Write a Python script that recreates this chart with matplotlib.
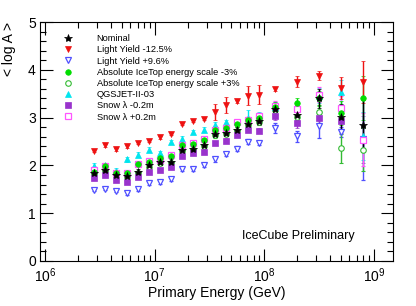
import numpy as np
import matplotlib
matplotlib.use("Agg")
import matplotlib.pyplot as plt
from matplotlib.lines import Line2D
from matplotlib.ticker import LogLocator, MultipleLocator, NullFormatter

plt.rcParams['font.family'] = ['Liberation Sans', 'DejaVu Sans']
plt.rcParams['mathtext.fontset'] = 'custom'
plt.rcParams['mathtext.rm'] = 'Liberation Sans'
plt.rcParams['mathtext.it'] = 'Liberation Sans:italic'

# ---- data ----
log_energy = [6.45, 6.55, 6.65, 6.75, 6.85, 6.95, 7.05, 7.15, 7.25, 7.35, 7.45,
              7.55, 7.65, 7.75, 7.85, 7.95, 8.1, 8.3, 8.5, 8.7, 8.9]

nominal = [1.84, 1.91, 1.80, 1.78, 1.87, 2.00, 2.08, 2.08, 2.33, 2.35, 2.43,
           2.66, 2.68, 2.75, 2.87, 2.92, 3.18, 3.05, 3.40, 3.01, 2.85]
nominal_err = [0.05, 0.05, 0.05, 0.05, 0.05, 0.05, 0.05, 0.05, 0.05, 0.05, 0.05,
               0.06, 0.06, 0.06, 0.07, 0.07, 0.10, 0.10, 0.20, 0.28, 0.52]

ly_minus = [2.31, 2.42, 2.34, 2.40, 2.47, 2.52, 2.59, 2.66, 2.87, 2.93, 2.97,
            3.12, 3.27, 3.34, 3.46, 3.48, 3.60, 3.75, 3.88, 3.62, 3.75]
ly_minus_err = [0.03, 0.03, 0.03, 0.03, 0.03, 0.03, 0.03, 0.03, 0.03, 0.03, 0.03,
                0.17, 0.17, 0.03, 0.20, 0.20, 0.05, 0.12, 0.10, 0.23, 0.44]

ly_plus = [1.49, 1.51, 1.47, 1.42, 1.50, 1.63, 1.65, 1.71, 1.92, 1.93, 2.01,
           2.13, 2.24, 2.35, 2.50, 2.47, 2.78, 2.61, 2.82, 2.70, 2.55]
ly_plus_err = [0.03, 0.03, 0.03, 0.03, 0.03, 0.04, 0.04, 0.04, 0.04, 0.04, 0.04,
               0.05, 0.05, 0.05, 0.05, 0.05, 0.10, 0.12, 0.25, 0.10, 0.85]

escale_minus = [1.87, 1.98, 1.85, 1.85, 2.02, 2.08, 2.15, 2.20, 2.43, 2.45, 2.54,
                2.75, 2.79, 2.86, 2.95, 3.00, 3.22, 3.31, 3.40, 3.10, 3.41]
escale_minus_err = [0.04, 0.04, 0.04, 0.04, 0.04, 0.04, 0.04, 0.04, 0.04, 0.05, 0.05,
                    0.05, 0.05, 0.05, 0.06, 0.06, 0.10, 0.10, 0.15, 0.25, 0.45]

escale_plus = [1.82, 1.88, 1.78, 1.76, 1.85, 1.97, 2.05, 2.06, 2.30, 2.33, 2.40,
               2.63, 2.66, 2.72, 2.84, 2.90, 3.15, 3.02, 3.11, 2.36, 2.33]
escale_plus_err = [0.04, 0.04, 0.04, 0.04, 0.04, 0.04, 0.04, 0.04, 0.04, 0.05, 0.05,
                   0.05, 0.05, 0.05, 0.06, 0.06, 0.10, 0.10, 0.15, 0.30, 0.45]

qgsjet = [1.99, 2.00, 1.89, 2.13, 2.22, 2.33, 2.26, 2.49, 2.56, 2.70, 2.75,
          2.85, 2.90, 2.91, 3.00, 3.04, 3.23, 3.17, 3.46, 3.53, 2.62]
qgsjet_err = [0.05, 0.04, 0.05, 0.05, 0.05, 0.05, 0.05, 0.05, 0.05, 0.05, 0.05,
              0.05, 0.06, 0.06, 0.15, 0.07, 0.10, 0.10, 0.15, 0.25, 0.50]

snow_minus = [1.73, 1.80, 1.70, 1.66, 1.75, 1.87, 1.91, 1.96, 2.20, 2.26, 2.27,
              2.47, 2.52, 2.64, 2.75, 2.73, 3.03, 2.89, 2.99, 2.92, 2.54]
snow_minus_err = [0.03, 0.03, 0.03, 0.03, 0.03, 0.03, 0.03, 0.03, 0.04, 0.04, 0.04,
                  0.05, 0.05, 0.05, 0.05, 0.05, 0.08, 0.10, 0.15, 0.25, 0.50]

snow_plus = [1.91, 1.99, 1.85, 1.85, 2.02, 2.10, 2.12, 2.22, 2.43, 2.47, 2.55,
             2.75, 2.78, 2.91, 2.96, 3.04, 3.25, 3.17, 3.48, 3.20, 2.54]
snow_plus_err = [0.04, 0.04, 0.04, 0.04, 0.04, 0.04, 0.04, 0.04, 0.04, 0.05, 0.05,
                 0.05, 0.05, 0.05, 0.06, 0.06, 0.10, 0.10, 0.15, 0.25, 0.56]

labels = ["Nominal", "Light Yield -12.5%", "Light Yield +9.6%",
          "Absolute IceTop energy scale -3%", "Absolute IceTop energy scale +3%",
          "QGSJET-II-03", "Snow \u03bb -0.2m", "Snow \u03bb +0.2m"]

energy = 10 ** np.array(log_energy)

series = [
    (ly_plus, ly_plus_err, dict(marker='v', color='#5050ff', mfc='white', ms=4.5, mew=0.9)),
    (escale_plus, escale_plus_err, dict(marker='o', color='#33bb33', mfc='white', ms=4.0, mew=0.8)),
    (snow_minus, snow_minus_err, dict(marker='s', color='#9933cc', mfc='#9933cc', ms=4.5, mew=0.5)),
    (qgsjet, qgsjet_err, dict(marker='^', color='#00e5ee', mfc='#00e5ee', ms=4.5, mew=0.5)),
    (snow_plus, snow_plus_err, dict(marker='s', color='#ff55ff', mfc='white', ms=4.5, mew=0.9)),
    (escale_minus, escale_minus_err, dict(marker='o', color='#00dd00', mfc='#00dd00', ms=4.0, mew=0.5)),
    (ly_minus, ly_minus_err, dict(marker='v', color='#ee1111', mfc='#ee1111', ms=5.0, mew=0.5)),
    (nominal, nominal_err, dict(marker='*', color='black', mfc='black', ms=6.0, mew=0.5)),
]
legend_order = [7, 6, 0, 5, 1, 3, 2, 4]

fig = plt.figure(figsize=(4.16, 3.06), dpi=100)
ax = fig.add_axes([40/416, 45/306, 353/416, 239/306])

for vals, errs, st in series:
    ax.errorbar(energy, vals, yerr=errs, linestyle='none', elinewidth=1.0,
                capsize=1.5, capthick=1.0, ecolor=st['color'], **st)

ax.set_xscale('log')
ax.set_xlim(10 ** 5.955, 10 ** 9.175)
ax.set_ylim(0, 5)

ax.xaxis.set_major_locator(LogLocator(base=10, numticks=10))
ax.xaxis.set_minor_locator(LogLocator(base=10, subs=np.arange(2, 10), numticks=20))
ax.xaxis.set_minor_formatter(NullFormatter())
ax.yaxis.set_major_locator(MultipleLocator(1))
ax.yaxis.set_minor_locator(MultipleLocator(0.2))

ax.tick_params(which='both', direction='in', top=True, right=True, width=0.8,
               labelsize=10, colors='black')
ax.tick_params(which='major', length=9)
ax.tick_params(which='minor', length=4.5)
ax.tick_params(axis='x', which='major', pad=4)
ax.tick_params(axis='y', which='major', pad=3)
for s in ax.spines.values():
    s.set_linewidth(0.8)

ax.set_xlabel("Primary Energy (GeV)", fontsize=10, labelpad=0)
ax.xaxis.set_label_coords(0.50, -0.105)
ax.set_ylabel("< log A >", fontsize=10, labelpad=0)
ax.yaxis.set_label_coords(-0.068, 0.885)

ax.text(0.572, 0.103, "IceCube Preliminary", transform=ax.transAxes,
        fontsize=9, ha='left', va='center')

handles = []
for i in legend_order:
    st = series[i][2]
    handles.append(Line2D([], [], linestyle='none', **st))
leg = ax.legend(handles, labels, loc='upper left', bbox_to_anchor=(0.055, 0.965),
                frameon=False, fontsize=6.7, handletextpad=2.6, labelspacing=0.24,
                borderaxespad=0, handlelength=1.0)

fig.savefig("out.png", dpi=100)
